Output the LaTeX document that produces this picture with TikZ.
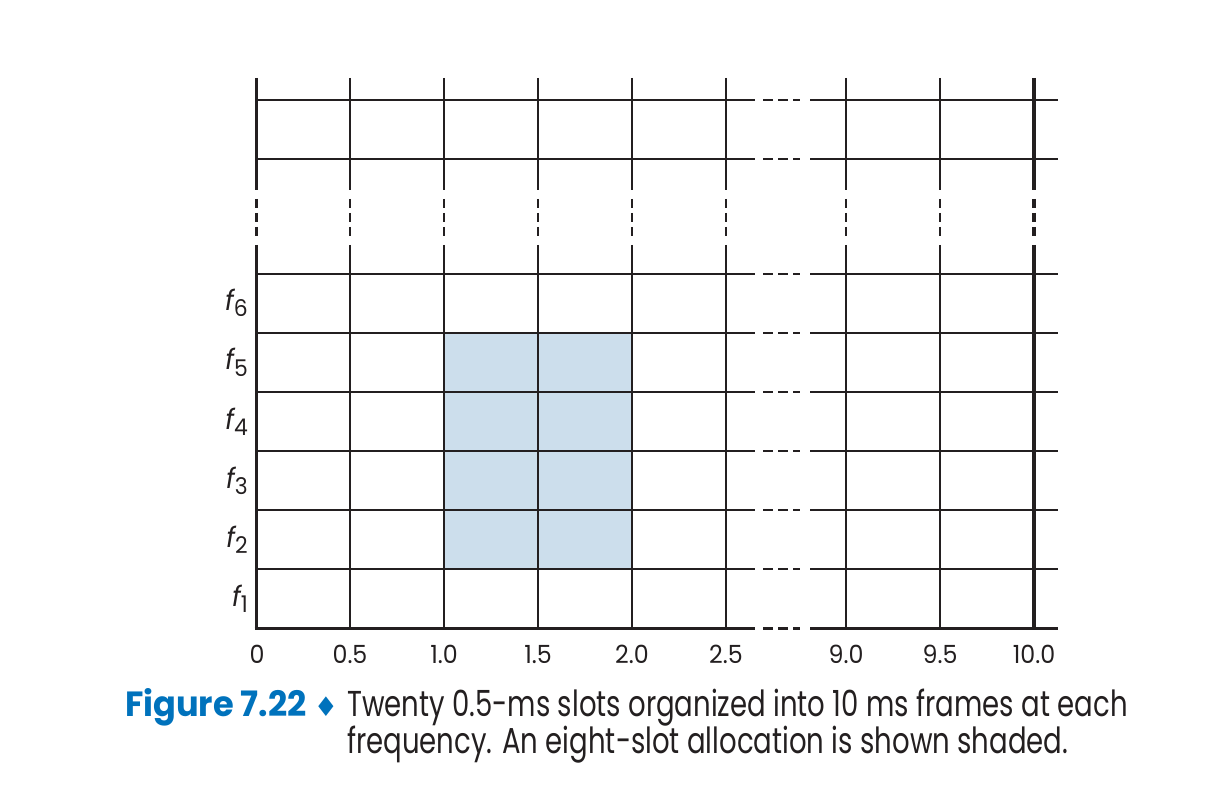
\documentclass[tikz,border=0pt]{standalone}
\usepackage{fontspec}
\setmainfont[FakeStretch=0.95]{Poppins}
\newfontfamily\capfont[FakeStretch=0.765]{Poppins}
\newfontfamily\numfont[FakeStretch=0.96]{Poppins}
\newfontfamily\symfont{DejaVu Sans}
\usetikzlibrary{positioning}
\definecolor{figblue}{RGB}{0,114,188}
\definecolor{slotshade}{RGB}{204,222,236}
\definecolor{ink}{RGB}{35,31,32}

\begin{document}
\begin{tikzpicture}[x=1pt, y=-1pt,
  gridline/.style={ink, line width=2pt},
  axisline/.style={ink, line width=3pt},
  gapline/.style={dash pattern=on 10pt off 5pt},
  vgapline/.style={dash pattern=on 9pt off 5pt},
  ticklbl/.style={font=\fontsize{25}{27}\selectfont, text=ink, inner sep=0pt, anchor=base},
  freqlbl/.style={font=\fontsize{28}{30}\selectfont\itshape, text=ink, inner sep=0pt, anchor=base east}]
\useasboundingbox (0,0) rectangle (1220,791);
% shaded eight-slot allocation
\fill[slotshade] (444,333) rectangle (632,569);
% horizontal lines (frequencies)
\foreach \y in {569,510,451,392,333,274,159,100} {
  \draw[gridline] (256,\y) -- (755,\y);
  \draw[gridline, gapline] (763,\y) -- (800,\y);
  \draw[gridline] (810,\y) -- (1058,\y);
}
% vertical lines (slots)
\foreach \x in {350,444,538,632,726,846,940} {
  \draw[gridline] (\x,78) -- (\x,190);
  \draw[gridline, vgapline] (\x,199) -- (\x,237);
  \draw[gridline] (\x,245) -- (\x,628);
}
% left axis and frame boundary
\draw[axisline] (256,78) -- (256,190);
\draw[axisline, vgapline] (256,199) -- (256,237);
\draw[axisline] (256,245) -- (256,629.5);
\draw[ink, line width=4pt] (1034,78) -- (1034,190);
\draw[ink, line width=4pt, vgapline] (1034,199) -- (1034,237);
\draw[ink, line width=4pt] (1034,245) -- (1034,628);
% time axis
\draw[axisline] (254.5,628) -- (755,628);
\draw[axisline, gapline] (763,628) -- (800,628);
\draw[axisline] (810,628) -- (1058,628);
% slot times
\node[ticklbl] (t0) at (257,663) {0};
\node[ticklbl] (t1) at (350,663) {0.5};
\node[ticklbl] (t2) at (444,663) {1.0};
\node[ticklbl] (t3) at (538,663) {1.5};
\node[ticklbl] (t4) at (632,663) {2.0};
\node[ticklbl] (t5) at (726,663) {2.5};
\node[ticklbl] (t18) at (846,663) {9.0};
\node[ticklbl] (t19) at (940,663) {9.5};
\node[ticklbl] (t20) at (1034,663) {10.0};
% frequencies
\foreach \i/\y in {1/606,2/547,3/488,4/429,5/370,6/311}
  \node[freqlbl] (f\i) at (248,\y) {f\raisebox{-6pt}{\upshape\fontsize{23}{24}\selectfont\i}};
% caption
\node[anchor=base east, inner sep=0pt, text=figblue, font=\numfont\bfseries\fontsize{35}{37}\selectfont] (fignum) at (307,716) {Figure 7.22};
\node[anchor=base, inner sep=0pt, text=figblue, font=\symfont\fontsize{27}{30}\selectfont] (figdia) at (326,716) {♦};
\node[anchor=base west, inner sep=0pt, text=ink, font=\capfont\fontsize{36}{37}\selectfont] (capA) at (347,716) {Twenty 0.5-ms slots organized into 10 ms frames at each};
\node[anchor=base west, inner sep=0pt, text=ink, font=\capfont\fontsize{36}{37}\selectfont] (capB) at (347,753) {frequency. An eight-slot allocation is shown shaded.};
\end{tikzpicture}
\end{document}
